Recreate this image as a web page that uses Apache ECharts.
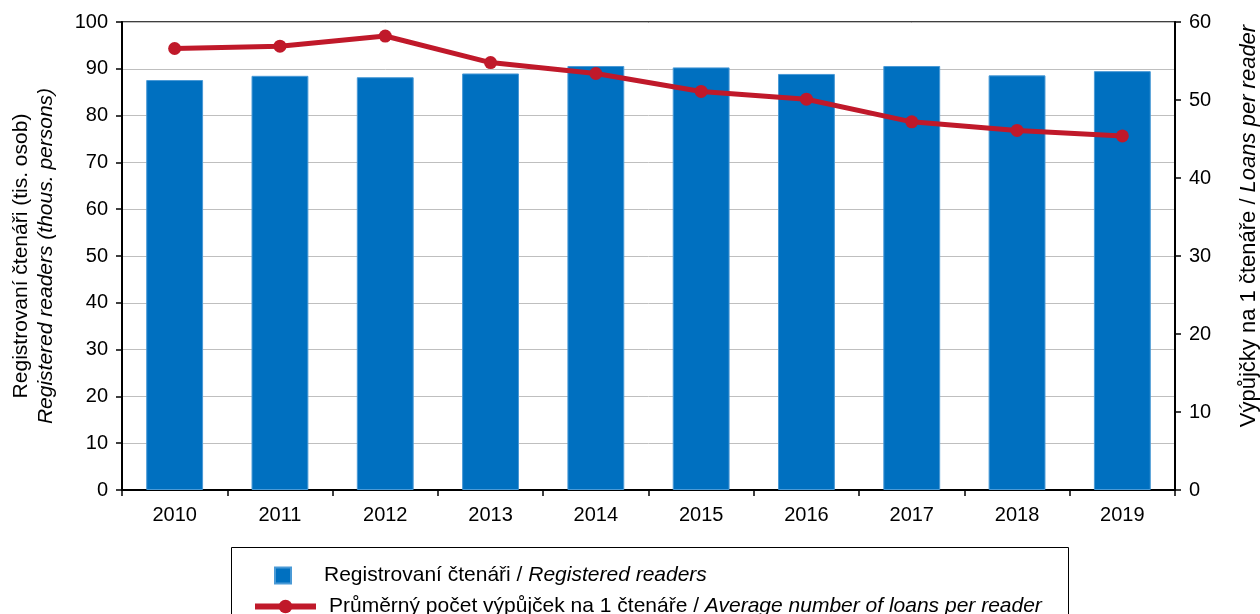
<!DOCTYPE html>
<html>
<head>
<meta charset="utf-8">
<script src="https://cdn.jsdelivr.net/npm/echarts@6/dist/echarts.min.js"></script>
<style>
  html, body { margin: 0; padding: 0; background: #fff; }
  #chart { width: 1260px; height: 614px; }
</style>
</head>
<body>
<div id="chart"></div>
<script>
// Years on the category axis
const years = ['2010', '2011', '2012', '2013', '2014', '2015', '2016', '2017', '2018', '2019'];
// Registered readers, thousands of persons (left axis)
const registeredReaders = [87.6, 88.5, 88.2, 89.0, 90.6, 90.3, 88.9, 90.6, 88.6, 89.5];
// Average number of loans per reader (right axis)
const loansPerReader = [56.6, 56.9, 58.2, 54.8, 53.4, 51.1, 50.1, 47.2, 46.1, 45.4];

const barName = 'Registrovaní čtenáři / {i|Registered readers}';
const lineName = 'Průměrný počet výpůjček na 1 čtenáře / {i|Average number of loans per reader}';

const FONT = '"Liberation Sans", Arial, sans-serif';
const BLUE = '#0070C0';
const RED = '#C0192A';
const TEXT_SIZE = 21;
const RIGHT_NAME_SIZE = 22;
const TICK_SIZE = 20;

const chart = echarts.init(document.getElementById('chart'), null, { renderer: 'canvas' });

const legendText = {
  fontFamily: FONT, fontSize: TEXT_SIZE, color: '#000',
  rich: { i: { fontFamily: FONT, fontSize: TEXT_SIZE, fontStyle: 'italic', color: '#000' } }
};

chart.setOption({
  animation: false,
  textStyle: { fontFamily: FONT },
  grid: {
    left: 122, right: 85, top: 22, bottom: 124,
    show: true, borderColor: '#000', borderWidth: 1.5, backgroundColor: 'transparent'
  },
  legend: [
    {
      data: [{ name: barName, icon: 'rect' }],
      left: 269, top: 560, itemWidth: 16, itemHeight: 16, itemGap: 0,
      textStyle: Object.assign({ padding: [0, 0, 0, 28] }, legendText)
    },
    {
      data: [{ name: lineName }],
      left: 247, top: 591, itemWidth: 61, itemHeight: 17, itemGap: 0,
      lineStyle: { width: 6 },
      textStyle: Object.assign({ padding: [0, 0, 0, 8] }, legendText)
    }
  ],
  graphic: [
    {
      type: 'rect', left: 229, top: 545,
      shape: { width: 837, height: 80 },
      style: { fill: 'none', stroke: '#000', lineWidth: 1 },
      z: 0
    },
    {
      type: 'text', x: 1249, y: 226, rotation: Math.PI / 2,
      style: {
        text: 'Výpůjčky na 1 čtenáře / {i|Loans per reader}',
        fontFamily: FONT, fontSize: RIGHT_NAME_SIZE, fill: '#000',
        align: 'center', verticalAlign: 'middle',
        rich: { i: { fontFamily: FONT, fontSize: RIGHT_NAME_SIZE, fontStyle: 'italic', fill: '#000' } }
      }
    }
  ],
  xAxis: {
    type: 'category',
    data: years,
    boundaryGap: true,
    axisLine: { lineStyle: { color: '#000', width: 2 } },
    axisTick: { show: true, length: 6, lineStyle: { color: '#000', width: 1.5 } },
    axisLabel: { color: '#000', fontSize: TICK_SIZE, fontFamily: FONT, margin: 15 }
  },
  yAxis: [
    {
      type: 'value', min: 0, max: 100, interval: 10,
      position: 'left',
      name: 'Registrovaní čtenáři (tis. osob)\n{i|Registered readers (thous. persons)}',
      nameLocation: 'middle', nameGap: 63, nameRotate: 90,
      nameTextStyle: {
        color: '#000', fontSize: TEXT_SIZE, fontFamily: FONT, lineHeight: 25,
        rich: { i: { fontSize: TEXT_SIZE, fontStyle: 'italic', fontFamily: FONT, color: '#000', lineHeight: 25 } }
      },
      axisLine: { show: true, lineStyle: { color: '#000', width: 2 } },
      axisTick: { show: true, length: 6, lineStyle: { color: '#000', width: 1.5 } },
      axisLabel: { color: '#000', fontSize: TICK_SIZE, fontFamily: FONT, margin: 14 },
      splitLine: { show: true, lineStyle: { color: '#BFBFBF', width: 1 } }
    },
    {
      type: 'value', min: 0, max: 60, interval: 10,
      position: 'right',
      axisLine: { show: true, lineStyle: { color: '#000', width: 2 } },
      axisTick: { show: true, length: 6, lineStyle: { color: '#000', width: 1.5 } },
      axisLabel: { color: '#000', fontSize: TICK_SIZE, fontFamily: FONT, margin: 14 },
      splitLine: { show: false }
    }
  ],
  series: [
    {
      name: barName,
      type: 'bar',
      yAxisIndex: 0,
      data: registeredReaders,
      barWidth: '54%',
      itemStyle: { color: BLUE, borderColor: '#4A9AD6', borderWidth: 1 },
      z: 2
    },
    {
      name: lineName,
      type: 'line',
      yAxisIndex: 1,
      data: loansPerReader,
      symbol: 'circle',
      symbolSize: 13,
      lineStyle: { color: RED, width: 5 },
      itemStyle: { color: RED },
      z: 3
    }
  ]
});
</script>
</body>
</html>
